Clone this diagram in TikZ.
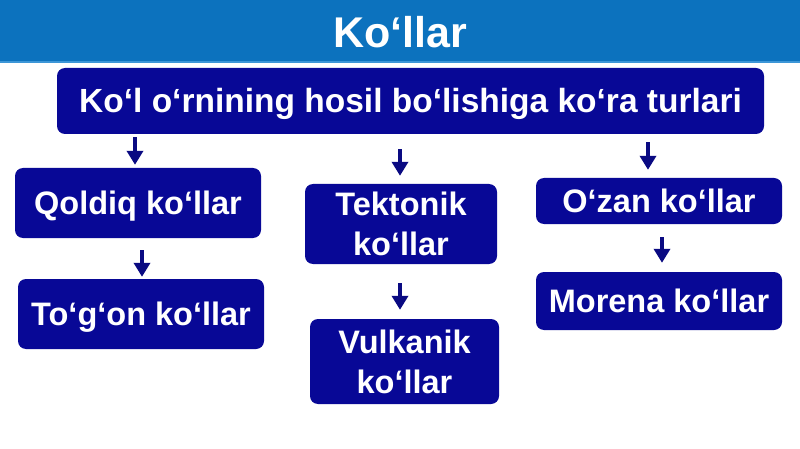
\documentclass[tikz,border=0pt]{standalone}
\usepackage{fontspec}
\setmainfont{Liberation Sans}
\usetikzlibrary{arrows.meta}
\definecolor{banner}{RGB}{12,114,190}
\definecolor{bannerline}{RGB}{60,150,215}
\definecolor{navy}{RGB}{8,8,150}
\definecolor{arrowc}{RGB}{10,10,130}
\tikzset{
  box/.style={fill=navy, rounded corners=8pt, text=white, inner sep=0pt,
    font=\bfseries\fontsize{32.5}{40}\selectfont, align=center},
  onebox/.style={box, text height=23pt, text depth=0pt},
  arr/.style={draw=arrowc, line width=3.5pt, -{Triangle[width=16pt,length=14pt]}}
}
\begin{document}
\begin{tikzpicture}[x=1pt,y=-1pt]
\useasboundingbox (0,0) rectangle (800,449);
\fill[white] (0,0) rectangle (800,449);
% banner
\fill[banner] (0,0) rectangle (800,62);
\fill[bannerline] (0,61) rectangle (800,63.5);
\node[anchor=base, text=white, font=\bfseries\fontsize{43}{50}\selectfont, inner sep=0pt] (title) at (400,48) {Ko‘llar};
% boxes
\node[onebox, font=\bfseries\fontsize{33.5}{40}\selectfont, minimum width=707pt, minimum height=66pt] (top) at (410.5,101) {Ko‘l o‘rnining hosil bo‘lishiga ko‘ra turlari};
\node[onebox, minimum width=246pt, minimum height=70pt] (q) at (138,203) {Qoldiq ko‘llar};
\node[onebox, minimum width=246pt, minimum height=70pt] (t) at (141,314) {To‘g‘on ko‘llar};
\node[box, minimum width=192pt, minimum height=80pt] (tek) at (401,224) {Tektonik\\ko‘llar};
\node[box, minimum width=189pt, minimum height=85pt] (v) at (404.5,361.5) {Vulkanik\\ko‘llar};
\node[onebox, minimum width=246pt, minimum height=46pt] (o) at (659,201) {O‘zan ko‘llar};
\node[onebox, minimum width=246pt, minimum height=58pt] (m) at (659,301) {Morena ko‘llar};
% arrow x positions
\coordinate (x1) at (135,0);
\coordinate (x2) at (400,0);
\coordinate (x3) at (648,0);
\coordinate (x4) at (142,0);
\coordinate (x5) at (400,0);
\coordinate (x6) at (662,0);
\draw[arr, shorten <=3pt, shorten >=3pt] (top.south -| x1) -- (q.north -| x1);
\draw[arr, shorten <=15pt, shorten >=8pt] (top.south -| x2) -- (tek.north -| x2);
\draw[arr, shorten <=8pt, shorten >=8pt] (top.south -| x3) -- (o.north -| x3);
\draw[arr, shorten <=12pt, shorten >=2pt] (q.south -| x4) -- (t.north -| x4);
\draw[arr, shorten <=19pt, shorten >=9pt] (tek.south -| x5) -- (v.north -| x5);
\draw[arr, shorten <=13pt, shorten >=9pt] (o.south -| x6) -- (m.north -| x6);
\end{tikzpicture}
\end{document}
